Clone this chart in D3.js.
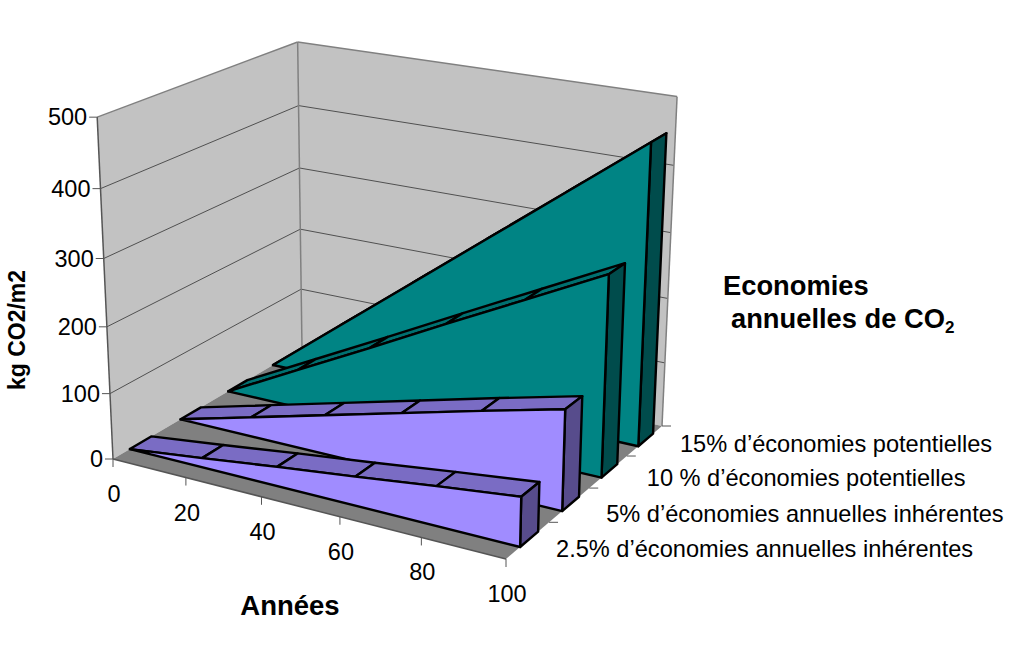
<!DOCTYPE html>
<html>
<head>
<meta charset="utf-8">
<title>Economies annuelles de CO2</title>
<script src="https://cdn.jsdelivr.net/npm/d3@7"></script>
<style>
  html, body { margin: 0; padding: 0; background: #fff; }
  svg { display: block; }
  text { font-family: "Liberation Sans", Arial, sans-serif; fill: #000; }
</style>
</head>
<body>
<div id="chart"></div>
<script>
// --- donnees
const years = [0, 20, 40, 60, 80, 100];
const zTicks = [0, 100, 200, 300, 400, 500];
const seriesNames = [
  '2.5% d\u2019économies annuelles inhérentes',
  '5% d\u2019économies annuelles inhérentes',
  '10 % d\u2019économies potentielles',
  '15% d\u2019économies potentielles'
];
const savings25 = [0, 14, 29, 43, 58, 72];
const savings5 = [0, 30, 60, 90, 120, 149];
const savings10 = [0, 60, 120, 181, 241, 301];
const savings15 = [0, 91, 182, 273, 364, 455];

const WIDTH = 1024;
const HEIGHT = 660;
const COLORS = {
  wall: '#c2c2c2',
  floor: '#808080',
  edge: '#808080',
  axis: '#555555',
  grid: '#505050'
};
const PURPLE = { front: '#a08cff', top: '#7a6cc4', side: '#574c8c' };
const TEAL = { front: '#008484', top: '#007070', side: '#004c4c' };
const RIBBON_STROKE = 2.4;

const series = [
  { values: savings25, colors: PURPLE },
  { values: savings5, colors: PURPLE },
  { values: savings10, colors: TEAL },
  { values: savings15, colors: TEAL }
];

// Position de chaque ruban dans la profondeur (0 = devant, 1 = fond)
const depthScale = d3.scaleLinear().domain([0, 4]).range([0, 1]);
const RIBBON_OFFSET = 0.08;
const RIBBON_DEPTH = 0.105;

const xScale = d3.scaleLinear().domain([0, 100]).range([0, 1]);
const zScale = d3.scaleLinear().domain([0, 500]).range([0, 1]);

// Coins de la boite en pixels : sert a calibrer la perspective
const FLOOR_FRONT_LEFT = [113, 459];
const FLOOR_FRONT_RIGHT = [506, 559];
const FLOOR_BACK_RIGHT = [662, 426];
const FLOOR_BACK_LEFT = [302, 348];
const TOP_FRONT_LEFT = [98, 120];
const TOP_BACK_LEFT = [297, 40];
const TOP_BACK_RIGHT = [677, 96];

// Decalage des noms de series par rapport a leur graduation
const SERIES_LABEL_DX = [7, 17, 20, 18];
const SERIES_LABEL_DY = [35, 34, 30, 26];

function solve3(m, v) {
  const det = (a) =>
    a[0][0] * (a[1][1] * a[2][2] - a[1][2] * a[2][1]) -
    a[0][1] * (a[1][0] * a[2][2] - a[1][2] * a[2][0]) +
    a[0][2] * (a[1][0] * a[2][1] - a[1][1] * a[2][0]);
  const d = det(m);
  return [0, 1, 2].map((c) => det(m.map((row, i) => row.map((val, j) => (j === c ? v[i] : val)))) / d);
}

// Homographie du sol (carre unite -> quadrilatere)
function floorHomography(p0, p1, p2, p3) {
  const dx1 = p1[0] - p2[0], dx2 = p3[0] - p2[0], sx = p0[0] - p1[0] + p2[0] - p3[0];
  const dy1 = p1[1] - p2[1], dy2 = p3[1] - p2[1], sy = p0[1] - p1[1] + p2[1] - p3[1];
  const den = dx1 * dy2 - dx2 * dy1;
  const g = (sx * dy2 - dx2 * sy) / den;
  const h = (dx1 * sy - sx * dy1) / den;
  return {
    a: p1[0] - p0[0] + g * p1[0], b: p3[0] - p0[0] + h * p3[0], c: p0[0],
    d: p1[1] - p0[1] + g * p1[1], e: p3[1] - p0[1] + h * p3[1], f: p0[1],
    g, h
  };
}

const H = floorHomography(FLOOR_FRONT_LEFT, FLOOR_FRONT_RIGHT, FLOOR_BACK_RIGHT, FLOOR_BACK_LEFT);

// Colonne verticale de la matrice, moindres carres sur les trois coins hauts
const vertical = (function () {
  const rows = [];
  const rhs = [];
  [[TOP_FRONT_LEFT, 0, 0], [TOP_BACK_LEFT, 0, 1], [TOP_BACK_RIGHT, 1, 1]].forEach(([pt, x, y]) => {
    const w = H.g * x + H.h * y + 1;
    rows.push([1, 0, -pt[0]]);
    rhs.push(pt[0] * w - (H.a * x + H.b * y + H.c));
    rows.push([0, 1, -pt[1]]);
    rhs.push(pt[1] * w - (H.d * x + H.e * y + H.f));
  });
  const ata = [0, 1, 2].map((i) => [0, 1, 2].map((j) => d3.sum(rows, (r) => r[i] * r[j])));
  const atb = [0, 1, 2].map((i) => d3.sum(rows, (r, k) => r[i] * rhs[k]));
  return solve3(ata, atb);
})();

// x, y, z dans le cube unite -> pixel
function project(x, y, z) {
  const w = H.g * x + H.h * y + 1 + vertical[2] * z;
  return [
    (H.a * x + H.b * y + H.c + vertical[0] * z) / w,
    (H.d * x + H.e * y + H.f + vertical[1] * z) / w
  ];
}

const svg = d3.select('#chart').append('svg').attr('width', WIDTH).attr('height', HEIGHT);
const polyPath = d3.line().curve(d3.curveLinearClosed);

function addPoly(parent, pts, fill, stroke, strokeWidth) {
  parent.append('path')
    .attr('d', polyPath(pts))
    .attr('fill', fill)
    .attr('stroke', stroke || 'none')
    .attr('stroke-width', strokeWidth || 0)
    .attr('stroke-linejoin', 'round');
}

function addLine(parent, a, b, stroke, strokeWidth) {
  parent.append('line')
    .attr('x1', a[0]).attr('y1', a[1])
    .attr('x2', b[0]).attr('y2', b[1])
    .attr('stroke', stroke)
    .attr('stroke-width', strokeWidth);
}

// --- murs et sol
const box = svg.append('g').attr('class', 'box');
addPoly(box, [project(0, 0, 0), project(0, 1, 0), project(0, 1, 1), project(0, 0, 1)], COLORS.wall);
addPoly(box, [project(0, 1, 0), project(1, 1, 0), project(1, 1, 1), project(0, 1, 1)], COLORS.wall);
addPoly(box, [project(0, 0, 0), project(1, 0, 0), project(1, 1, 0), project(0, 1, 0)], COLORS.floor);

zTicks.slice(1, -1).forEach((t) => {
  const z = zScale(t);
  addLine(box, project(0, 0, z), project(0, 1, z), COLORS.grid, 1);
  addLine(box, project(0, 1, z), project(1, 1, z), COLORS.grid, 1);
});

// Bords des murs
addLine(box, project(0, 0, 1), project(0, 1, 1), COLORS.edge, 1.5);
addLine(box, project(0, 1, 1), project(1, 1, 1), COLORS.edge, 1.5);
addLine(box, project(1, 1, 1), project(1, 1, 0), COLORS.edge, 1.5);
addLine(box, project(0, 1, 1), project(0, 1, 0), COLORS.edge, 1.5);
addLine(box, project(0, 0, 0), project(0, 0, 1), COLORS.axis, 1.5);
addLine(box, project(0, 0, 0), project(1, 0, 0), COLORS.axis, 1.5);

// --- graduations et libelles
const labels = svg.append('g').attr('class', 'labels');
zTicks.forEach((t) => {
  const p = project(0, 0, zScale(t));
  addLine(box, p, [p[0] - 8, p[1]], COLORS.axis, 1);
  labels.append('text')
    .attr('x', p[0] - 10)
    .attr('y', p[1] + 8)
    .attr('text-anchor', 'end')
    .attr('font-size', 23.5)
    .text(t);
});

years.forEach((t) => {
  const p = project(xScale(t), 0, 0);
  addLine(box, p, [p[0], p[1] + 8], COLORS.axis, 1);
  labels.append('text')
    .attr('x', p[0] + 1)
    .attr('y', p[1] + 43)
    .attr('text-anchor', 'middle')
    .attr('font-size', 23.5)
    .text(t);
});

seriesNames.forEach((name, i) => {
  const p = project(1, depthScale(i + 1), 0);
  addLine(box, p, [p[0] + 9, p[1]], COLORS.axis, 1);
  labels.append('text')
    .attr('x', p[0] + SERIES_LABEL_DX[i])
    .attr('y', p[1] + SERIES_LABEL_DY[i])
    .attr('font-size', 23.6)
    .text(name);
});

// --- rubans, du fond vers l'avant
const ribbons = svg.append('g').attr('class', 'ribbons');
series.slice().reverse().forEach((s, idx) => {
  const k = series.length - 1 - idx;
  const y0 = depthScale(k) + RIBBON_OFFSET;
  const y1 = y0 + RIBBON_DEPTH;
  const g = ribbons.append('g');
  const at = (i, y) => project(xScale(years[i]), y, zScale(s.values[i]));

  d3.range(years.length - 1).forEach((i) => {
    addPoly(g, [at(i, y0), at(i + 1, y0), at(i + 1, y1), at(i, y1)], s.colors.top, '#000', RIBBON_STROKE);
  });

  const last = years.length - 1;
  const xEnd = xScale(years[last]);
  addPoly(g, [project(xEnd, y0, 0), project(xEnd, y1, 0), at(last, y1), at(last, y0)], s.colors.side, '#000', RIBBON_STROKE);

  const front = years.map((yr, i) => at(i, y0))
    .concat([project(xEnd, y0, 0), project(xScale(years[0]), y0, 0)]);
  addPoly(g, front, s.colors.front, '#000', RIBBON_STROKE);
});

// --- titres
labels.append('text')
  .attr('transform', 'translate(25,330) rotate(-90)')
  .attr('text-anchor', 'middle')
  .attr('font-size', 23)
  .attr('font-weight', 'bold')
  .text('kg CO2/m2');

labels.append('text')
  .attr('x', 290).attr('y', 615)
  .attr('text-anchor', 'middle')
  .attr('font-size', 27.5)
  .attr('font-weight', 'bold')
  .text('Années');

labels.append('text')
  .attr('x', 723).attr('y', 295)
  .attr('font-size', 27.3)
  .attr('font-weight', 'bold')
  .text('Economies');

const co2 = labels.append('text')
  .attr('x', 731).attr('y', 328)
  .attr('font-size', 27.3)
  .attr('font-weight', 'bold');
co2.append('tspan').text('annuelles de CO');
co2.append('tspan').attr('font-size', 17).attr('dy', 5).text('2');
</script>
</body>
</html>
